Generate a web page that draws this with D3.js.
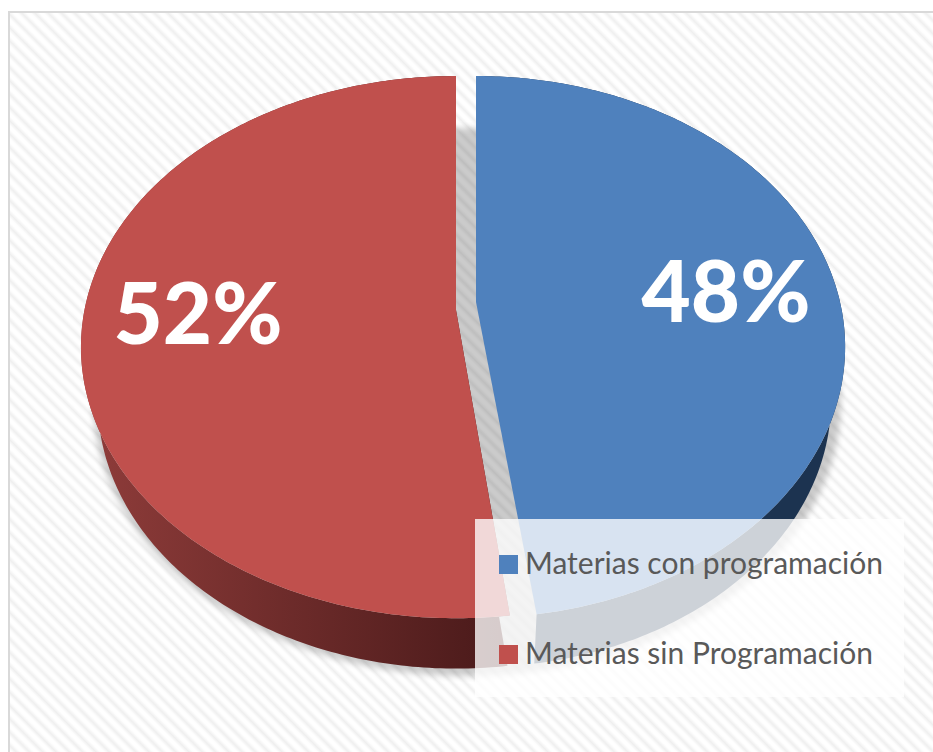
<!DOCTYPE html>
<html>
<head>
<meta charset="utf-8">
<script src="https://cdn.jsdelivr.net/npm/d3@7"></script>
<style>
html,body{margin:0;padding:0;background:#fff;overflow:hidden}
svg{display:block}
text{font-family:Lato,"Open Sans",sans-serif}
</style>
</head>
<body>
<svg id="chart" width="933" height="752"></svg>
<script>
const categories = ["Materias con programación", "Materias sin Programación"];
const values = [48, 52];
const labels = ["48%", "52%"];
const colors = ["#4f81bd", "#c0504d"];

const svg = d3.select("#chart");
const defs = svg.append("defs");

// striped backdrop
const pat = defs.append("pattern").attr("id", "stripes").attr("patternUnits", "userSpaceOnUse")
  .attr("width", 9.4).attr("height", 9.4).attr("patternTransform", "rotate(-45)");
const sg = defs.append("linearGradient").attr("id", "stripeGrad").attr("x1", 0).attr("x2", 1).attr("y1", 0).attr("y2", 0);
[[0, "#ffffff"], [.3, "#ffffff"], [.65, "#efefef"], [1, "#ffffff"]].forEach(d =>
  sg.append("stop").attr("offset", d[0]).attr("stop-color", d[1]));
pat.append("rect").attr("width", 9.4).attr("height", 9.4).attr("fill", "url(#stripeGrad)");

svg.append("rect").attr("width", 933).attr("height", 752).attr("fill", "#fff");
svg.append("rect").attr("x", 9).attr("y", 12).attr("width", 960).attr("height", 780)
  .attr("fill", "url(#stripes)").attr("stroke", "#d9d9d9").attr("stroke-width", 2);

// drop shadow
defs.append("filter").attr("id", "blur").attr("x", "-10%").attr("y", "-10%").attr("width", "120%").attr("height", "120%")
  .append("feGaussianBlur").attr("stdDeviation", 3);
svg.append("ellipse").attr("cx", 467).attr("cy", 402).attr("rx", 374).attr("ry", 274)
  .attr("fill", "#000").attr("opacity", .2).attr("filter", "url(#blur)");

// wall shading
const wg = defs.append("linearGradient").attr("id", "wallRed").attr("gradientUnits", "userSpaceOnUse")
  .attr("x1", 85).attr("x2", 500).attr("y1", 0).attr("y2", 0);
wg.append("stop").attr("offset", 0).attr("stop-color", "#8f3c3a");
wg.append("stop").attr("offset", 1).attr("stop-color", "#4a1a1a");

// one perspective description per slice (its exploded apex, tilt, reach and slight turn)
const views = [
  {apexX: 476, apexY: 302, a: 364, b: 263.5, k: .166, baseY: 356, turn: .9954, baseX: .962, wall: "#1c3350"},
  {apexX: 456, apexY: 310, a: 371.5, b: 266, k: .137, baseY: 365, turn: 1, baseX: .955, wall: "url(#wallRed)"}
];
const baseScaleY = .985;

const project = (v, angle, base) => {
  const t = angle * v.turn;
  const u = Math.sin(t), w = -Math.cos(t), den = 1 - v.k * w;
  const sx = base ? v.baseX : 1, sy = base ? baseScaleY : 1;
  return [v.apexX + v.a * sx * u / den, (base ? v.baseY : v.apexY) + v.b * sy * w / den];
};

const arcs = d3.pie().sort(null)(values);
const line = d3.line().curve(d3.curveLinear);

const rim = (v, d, base) => {
  const n = 240;
  return d3.range(n + 1).map(i => project(v, d.startAngle + (d.endAngle - d.startAngle) * i / n, base));
};

const data = arcs.map((d, i) => {
  const v = views[i];
  const top = rim(v, d, false), bottom = rim(v, d, true);
  return {
    i, v,
    solid: [[v.apexX, v.baseY], ...bottom, ...top.slice().reverse(), [v.apexX, v.apexY]],
    face: [[v.apexX, v.apexY], ...top]
  };
});

// body (walls and base) then top face
svg.append("g").selectAll("path").data(data).join("path")
  .attr("d", d => line(d.solid) + "Z").attr("fill", d => d.v.wall);
svg.append("g").selectAll("path").data(data).join("path")
  .attr("d", d => line(d.face) + "Z").attr("fill", d => colors[d.i]);

// data labels
const labelPos = [[726, 322], [198, 344]];
svg.append("g").selectAll("text").data(labels).join("text")
  .attr("x", (d, i) => labelPos[i][0]).attr("y", (d, i) => labelPos[i][1])
  .attr("text-anchor", "middle").attr("font-size", 85).attr("font-weight", 900)
  .attr("fill", "#fff").text(d => d);

// legend
svg.append("rect").attr("x", 475).attr("y", 519).attr("width", 429).attr("height", 178)
  .attr("fill", "#fff").attr("opacity", .78);
const legend = svg.append("g").selectAll("g").data(categories).join("g")
  .attr("transform", (d, i) => `translate(0,${555 + i * 90})`);
legend.append("rect").attr("x", 499).attr("width", 19).attr("height", 19).attr("fill", (d, i) => colors[i]);
legend.append("text").attr("x", 525).attr("y", 19).attr("font-size", 30).attr("fill", "#595959").text(d => d);
</script>
</body>
</html>
